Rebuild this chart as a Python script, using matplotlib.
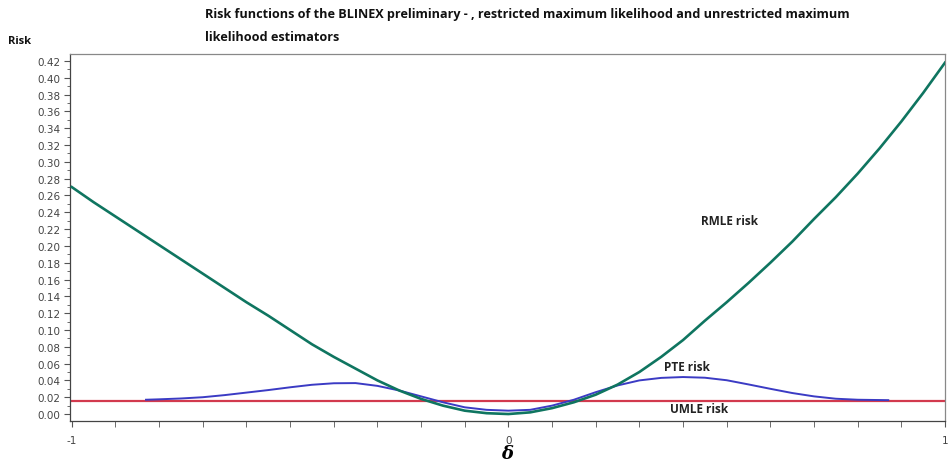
import numpy as np
import matplotlib.pyplot as plt
from matplotlib.ticker import MultipleLocator, FixedLocator

# ==================== DATA ====================
delta_rmle = [-1.00, -0.95, -0.90, -0.85, -0.80, -0.75, -0.70, -0.65, -0.60, -0.55,
              -0.50, -0.45, -0.40, -0.35, -0.30, -0.25, -0.20, -0.15, -0.10, -0.05,
              0.00, 0.05, 0.10, 0.15, 0.20, 0.25, 0.30, 0.35, 0.40, 0.45,
              0.50, 0.55, 0.60, 0.65, 0.70, 0.75, 0.80, 0.85, 0.90, 0.95, 1.00]
risk_rmle = [0.270, 0.252, 0.235, 0.218, 0.201, 0.184, 0.167, 0.150, 0.133, 0.117,
             0.100, 0.083, 0.068, 0.054, 0.040, 0.028, 0.018, 0.010, 0.004, 0.001,
             0.000, 0.002, 0.007, 0.014, 0.023, 0.035, 0.050, 0.068, 0.088, 0.111,
             0.133, 0.156, 0.180, 0.205, 0.232, 0.258, 0.286, 0.316, 0.348, 0.382, 0.418]

delta_pte = [-0.83, -0.80, -0.75, -0.70, -0.65, -0.60, -0.55, -0.50, -0.45, -0.40,
             -0.35, -0.30, -0.25, -0.20, -0.15, -0.10, -0.05, 0.00, 0.05, 0.10,
             0.15, 0.20, 0.25, 0.30, 0.35, 0.40, 0.45, 0.50, 0.55, 0.60,
             0.65, 0.70, 0.75, 0.80, 0.87]
risk_pte = [0.0170, 0.0175, 0.0185, 0.0200, 0.0225, 0.0255, 0.0285, 0.0318, 0.0348, 0.0366,
            0.0368, 0.0335, 0.0280, 0.0210, 0.0140, 0.0080, 0.0050, 0.0040, 0.0050, 0.0100,
            0.0170, 0.0260, 0.0340, 0.0400, 0.0430, 0.0440, 0.0432, 0.0402, 0.0352, 0.0300,
            0.0250, 0.0210, 0.0182, 0.0170, 0.0165]

delta_umle = [-1.0, 1.0]
risk_umle = [0.016, 0.016]

x_ticks = [-1, 0, 1]
x_ticklabels = ['-1', '0', '1']

# ==================== PLOT ====================
fig = plt.figure(figsize=(9.49, 4.64), dpi=100)
ax = fig.add_axes([0.0738, 0.0905, 0.9220, 0.7910])

ax.plot(delta_umle, risk_umle, color='#d23a4e', lw=1.6, zorder=2)
ax.plot(delta_pte, risk_pte, color='#3b3bc4', lw=1.4, zorder=3)
ax.plot(delta_rmle, risk_rmle, color='#0f7560', lw=1.9, zorder=4)

ax.set_xlim(-1.004, 1.0)
ax.set_ylim(-0.0083, 0.4283)

yvals = np.arange(0, 0.421, 0.02)
ax.set_yticks(yvals)
ax.set_yticklabels([f'{v:.2f}' for v in yvals])
ax.yaxis.set_minor_locator(MultipleLocator(0.01))
ax.xaxis.set_major_locator(FixedLocator(x_ticks))
ax.xaxis.set_minor_locator(FixedLocator(np.arange(-0.9, 0.95, 0.1)))
ax.set_xticklabels(x_ticklabels)

ax.tick_params(axis='both', which='both', direction='out', colors='#555555',
               labelcolor='#444444', labelsize=7.5)
ax.tick_params(axis='y', which='major', length=4, pad=3)
ax.tick_params(axis='y', which='minor', length=2)
ax.tick_params(axis='x', which='both', length=4, pad=6)

for side in ['left', 'bottom']:
    ax.spines[side].set_color('#444444')
for side in ['top', 'right']:
    ax.spines[side].set_color('#888888')
for s in ax.spines.values():
    s.set_linewidth(0.9)

ax.set_xlabel('δ', fontsize=13, family='DejaVu Serif',
              fontweight='bold', style='italic', labelpad=-1)

# curve labels
lab = dict(fontsize=8.5, fontweight='bold', family='Open Sans', color='#222222',
           ha='center', va='center')
ax.text(0.506, 0.230, 'RMLE risk', **lab)
ax.text(0.410, 0.056, 'PTE risk', **lab)
ax.text(0.437, 0.006, 'UMLE risk', **lab)

# title and y-axis label
fig.text(0.216, 0.982, 'Risk functions of the BLINEX preliminary - , restricted maximum likelihood and unrestricted maximum\nlikelihood estimators',
         fontsize=9.1, fontweight='bold', family='Open Sans', ha='left', va='top',
         linespacing=1.95, color='#111111')
fig.text(0.008, 0.911, 'Risk', fontsize=8, fontweight='bold', family='Open Sans',
         ha='left', va='center', color='#111111')

fig.savefig('out.png', dpi=100)
